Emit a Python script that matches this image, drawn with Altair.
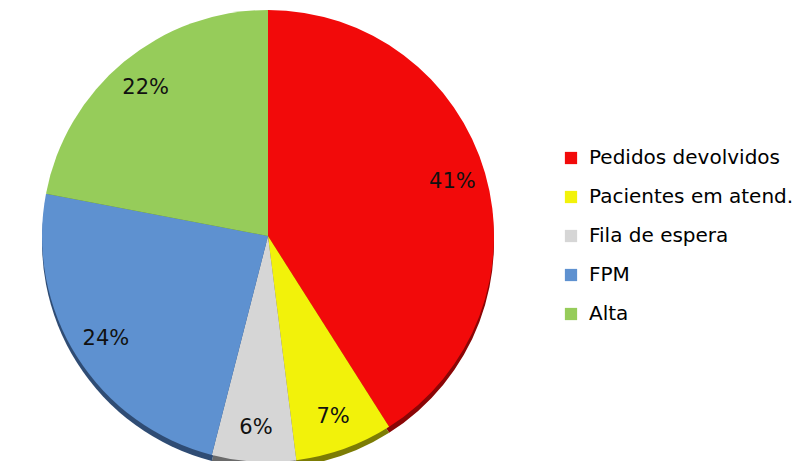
import altair as alt
import pandas as pd

categories = ["Pedidos devolvidos", "Pacientes em atend.", "Fila de espera", "FPM", "Alta"]
values = [41, 7, 6, 24, 22]
labels = ["41%", "7%", "6%", "24%", "22%"]
colors = ["#F20A0A", "#F2F20A", "#D6D6D6", "#5E91D0", "#96CC5A"]
rim_colors = ["#8A0606", "#7C7C05", "#6A6A6A", "#2F4C74", "#577A30"]

df = pd.DataFrame({
    "cat": categories,
    "value": values,
    "label": labels,
    "idx": list(range(len(categories))),
    "rim": rim_colors,
})

CX, CY, R = 260, 228, 226

base = alt.Chart(df).encode(
    theta=alt.Theta("value:Q", stack=True),
    order=alt.Order("idx:Q", sort="ascending"),
)

rim = base.mark_arc(radius=R).encode(
    fill=alt.Fill("rim:N", scale=None),
    x=alt.value(CX),
    y=alt.value(CY + 6),
)

pie = base.mark_arc(radius=R).encode(
    fill=alt.Fill(
        "cat:N",
        scale=alt.Scale(domain=categories, range=colors),
        sort=categories,
        legend=alt.Legend(
            title=None,
            orient="none",
            legendX=553,
            legendY=140,
            symbolType="square",
            symbolSize=150,
            symbolStrokeWidth=0,
            labelFont="DejaVu Sans",
            labelFontSize=20,
            labelColor="#000000",
            labelOffset=8,
            labelLimit=400,
            rowPadding=19,
            padding=0,
        ),
    ),
    x=alt.value(CX),
    y=alt.value(CY),
)

text = base.mark_text(
    radius=192, font="DejaVu Sans", fontSize=21, color="#111111"
).encode(
    text="label:N",
    x=alt.value(CX),
    y=alt.value(CY),
)

chart = (
    alt.layer(rim, pie, text)
    .properties(width=789, height=453, padding=0, autosize="none", background="#FFFFFF")
    .configure_view(strokeWidth=0, stroke="transparent")
)

chart.save("out.html", embed_options={"renderer": "svg", "actions": False})
